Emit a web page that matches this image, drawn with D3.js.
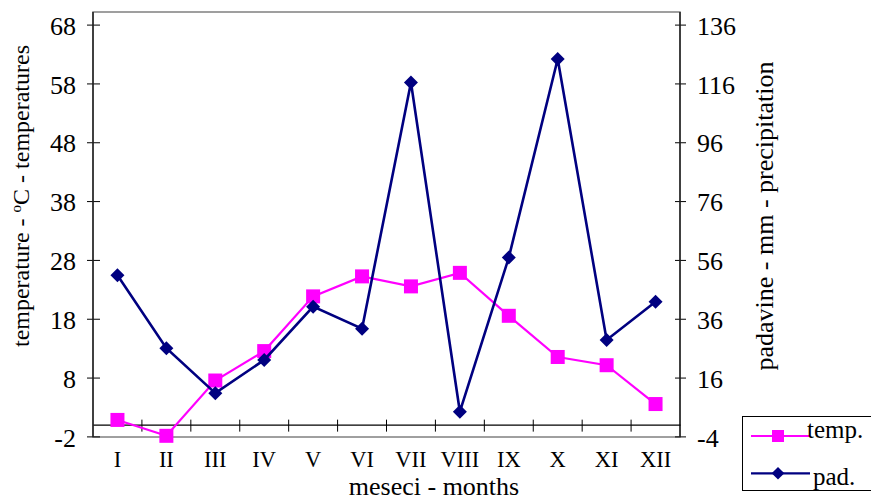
<!DOCTYPE html>
<html>
<head>
<meta charset="utf-8">
<script src="https://cdn.jsdelivr.net/npm/d3@7"></script>
<style>
    body { margin: 0; background: #fff; }
    svg, svg text { font-family: "Liberation Serif", "DejaVu Serif", "Times New Roman", Times, serif !important; }
</style>
</head>
<body>
<div id="chart"></div>
<script>
// Data
const months = ["I", "II", "III", "IV", "V", "VI", "VII", "VIII", "IX", "X", "XI", "XII"];
const temp = [0.8, -1.9, 7.5, 12.5, 21.8, 25.2, 23.5, 25.8, 18.5, 11.5, 10.1, 3.5];
const pad = [50.8, 26.0, 10.7, 22.0, 40.1, 32.6, 116.3, 4.4, 56.8, 124.3, 28.8, 41.8];
const tempTicks = [-2, 8, 18, 28, 38, 48, 58, 68];
const padTicks = [-4, 16, 36, 56, 76, 96, 116, 136];

const width = 871, height = 501;
const plot = { left: 93, right: 680, top: 12, bottom: 437 };
const serif = "'Liberation Serif', 'DejaVu Serif', 'Times New Roman', Times, serif";

const svg = d3.select("#chart").append("svg")
    .attr("width", width).attr("height", height)
    .attr("font-family", serif);

const x = d3.scaleBand().domain(months).range([plot.left, plot.right]);
const yT = d3.scaleLinear().domain([-2, 68]).range([436.4, 24.6]);
const yP = d3.scaleLinear().domain([-4, 136]).range([436.4, 24.6]);

// plot area frame
svg.append("rect")
    .attr("x", plot.left).attr("y", plot.top)
    .attr("width", plot.right - plot.left).attr("height", plot.bottom - plot.top)
    .attr("fill", "none").attr("stroke", "#808080").attr("stroke-width", 1.5);

// left axis
const leftAxis = svg.append("g")
    .attr("transform", `translate(${plot.left},0)`)
    .call(d3.axisLeft(yT).tickValues(tempTicks).tickFormat(d => String(d))
        .tickSizeInner(6).tickSizeOuter(0).tickPadding(11));
leftAxis.attr("font-family", serif).attr("font-size", 26);
leftAxis.select(".domain").remove();
leftAxis.selectAll(".tick line").attr("x1", 7).attr("stroke", "#000");
leftAxis.selectAll(".tick text").attr("dy", "0.37em").attr("fill", "#000");
svg.append("line")
    .attr("x1", plot.left).attr("x2", plot.left)
    .attr("y1", plot.top).attr("y2", plot.bottom)
    .attr("stroke", "#202020").attr("stroke-width", 1.5);

// right axis
const rightAxis = svg.append("g")
    .attr("transform", `translate(${plot.right},0)`)
    .call(d3.axisRight(yP).tickValues(padTicks).tickFormat(d => String(d))
        .tickSizeInner(6).tickSizeOuter(0).tickPadding(11));
rightAxis.attr("font-family", serif).attr("font-size", 26);
rightAxis.select(".domain").remove();
rightAxis.selectAll(".tick line").attr("x1", -5).attr("stroke", "#000");
rightAxis.selectAll(".tick text").attr("dy", "0.37em").attr("fill", "#000");
svg.append("line")
    .attr("x1", plot.right).attr("x2", plot.right)
    .attr("y1", plot.top).attr("y2", plot.bottom)
    .attr("stroke", "#202020").attr("stroke-width", 1.5);

// category axis on the zero line
const zeroY = yT(0);
const bottomAxis = svg.append("g")
    .attr("transform", `translate(0,${zeroY})`)
    .call(d3.axisBottom(x).tickSize(0).tickSizeOuter(0).tickPadding(26));
bottomAxis.attr("font-family", serif).attr("font-size", 22.5);
bottomAxis.select(".domain").attr("stroke", "#000").attr("stroke-width", 1.2);
bottomAxis.selectAll(".tick text").attr("fill", "#000");
bottomAxis.selectAll(".between")
    .data(months.slice(1))
    .join("line")
    .attr("class", "between")
    .attr("x1", d => x(d)).attr("x2", d => x(d))
    .attr("y1", -5).attr("y2", 7)
    .attr("stroke", "#000");

// axis titles
svg.append("text")
    .attr("transform", "translate(29,196) rotate(-90)")
    .attr("text-anchor", "middle")
    .attr("font-size", 24)
    .call(t => {
        t.append("tspan").text("temperature  -  ");
        t.append("tspan").attr("baseline-shift", "super").attr("font-size", 15).text("o");
        t.append("tspan").text("C - temperatures");
    });

svg.append("text")
    .attr("transform", "translate(773,216) rotate(-90)")
    .attr("text-anchor", "middle")
    .attr("font-size", 26)
    .text("padavine - mm - precipitation");

svg.append("text")
    .attr("x", 434).attr("y", 495)
    .attr("text-anchor", "middle")
    .attr("font-size", 26)
    .text("meseci - months");

// series
const cx = d => x(d) + x.bandwidth() / 2;

svg.append("path")
    .datum(months)
    .attr("fill", "none").attr("stroke", "#FF00FF").attr("stroke-width", 2.2)
    .attr("d", d3.line().x(cx).y((d, i) => yT(temp[i])));
svg.selectAll(".sq")
    .data(months)
    .join("rect")
    .attr("class", "sq")
    .attr("x", d => cx(d) - 7).attr("y", (d, i) => yT(temp[i]) - 7)
    .attr("width", 14).attr("height", 14)
    .attr("fill", "#FF00FF");

svg.append("path")
    .datum(months)
    .attr("fill", "none").attr("stroke", "#000080").attr("stroke-width", 2.6)
    .attr("d", d3.line().x(cx).y((d, i) => yP(pad[i])));
svg.selectAll(".dm")
    .data(months)
    .join("path")
    .attr("class", "dm")
    .attr("transform", (d, i) => `translate(${cx(d)},${yP(pad[i])}) rotate(45)`)
    .attr("d", d3.symbol().type(d3.symbolSquare).size(98))
    .attr("fill", "#000080");

// legend
const legend = svg.append("g");
legend.append("rect")
    .attr("x", 742.5).attr("y", 416.5).attr("width", 140).attr("height", 74)
    .attr("fill", "#fff").attr("stroke", "#000");
legend.append("line")
    .attr("x1", 751).attr("x2", 810).attr("y1", 436).attr("y2", 436)
    .attr("stroke", "#FF00FF").attr("stroke-width", 2.2);
legend.append("rect")
    .attr("x", 772).attr("y", 430).attr("width", 12).attr("height", 12)
    .attr("fill", "#FF00FF");
legend.append("text")
    .attr("x", 807).attr("y", 438)
    .attr("font-size", 25)
    .text("temp.");
legend.append("line")
    .attr("x1", 751).attr("x2", 810).attr("y1", 473.3).attr("y2", 473.3)
    .attr("stroke", "#000080").attr("stroke-width", 2.2);
legend.append("path")
    .attr("transform", "translate(778,473.3) rotate(45)")
    .attr("d", d3.symbol().type(d3.symbolSquare).size(80))
    .attr("fill", "#000080");
legend.append("text")
    .attr("x", 813).attr("y", 485)
    .attr("font-size", 25)
    .text("pad.");
</script>
</body>
</html>
